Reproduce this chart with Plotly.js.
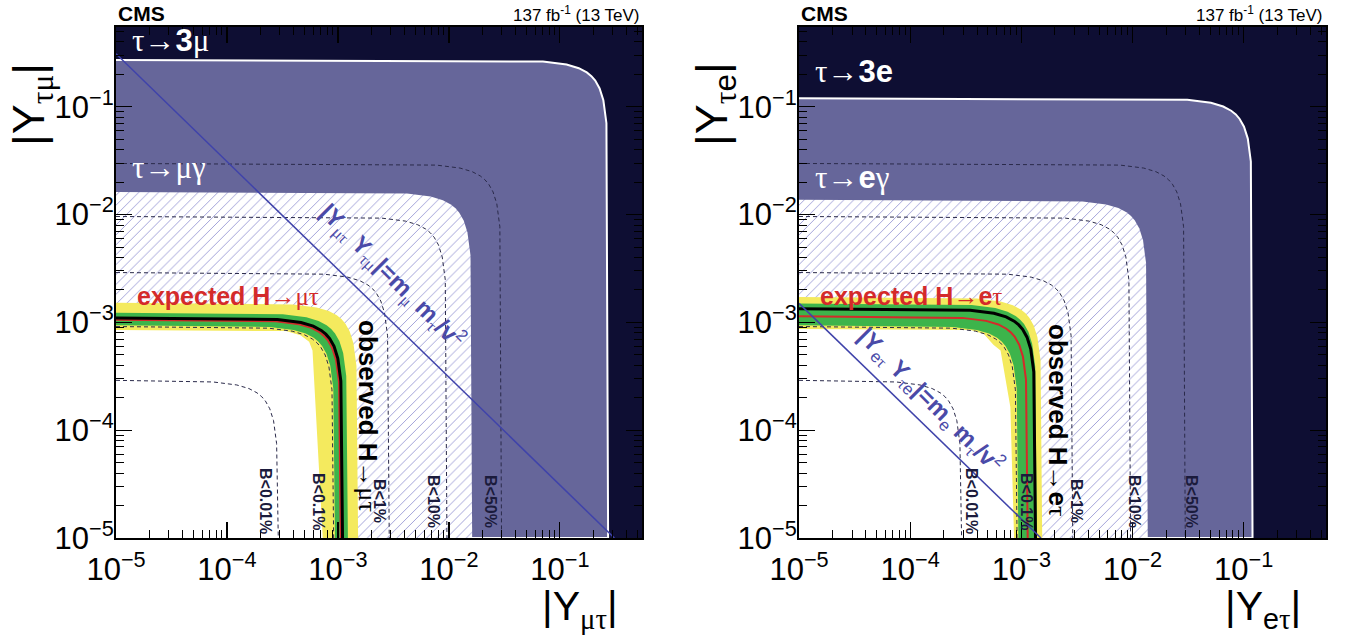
<!DOCTYPE html>
<html><head><meta charset="utf-8">
<script src="https://cdn.plot.ly/plotly-3.0.1.min.js"></script>
<style>html,body{margin:0;padding:0;background:#fff}#chart{width:1354px;height:639px}</style>
</head><body><div id="chart"></div>
<script>
// ---------------- data ----------------
const AXMIN = 1e-5;
// shared branching-fraction contours B<0.01%,0.1%,1%,10%,50%
const B001_x = [1e-5, 7.51e-5, 1.226e-4, 1.579e-4, 1.864e-4, 2.051e-4, 2.221e-4, 2.432e-4, 2.628e-4, 2.801e-4, 2.9e-4];
const B01_x  = [1e-5, 2.368e-4, 3.867e-4, 4.983e-4, 5.882e-4, 6.47e-4, 7.009e-4, 7.674e-4, 8.293e-4, 8.838e-4, 9.15e-4];
const B1_x   = [1e-5, 7.51e-4, 1.226e-3, 1.579e-3, 1.864e-3, 2.051e-3, 2.221e-3, 2.432e-3, 2.628e-3, 2.801e-3, 2.9e-3];
const B10_x  = [1e-5, 2.484e-3, 4.057e-3, 5.228e-3, 6.171e-3, 6.788e-3, 7.354e-3, 8.052e-3, 8.7e-3, 9.273e-3, 9.6e-3];
const B50_x  = [1e-5, 7.71e-3, 1.259e-2, 1.623e-2, 1.916e-2, 2.107e-2, 2.283e-2, 2.499e-2, 2.701e-2, 2.878e-2, 2.98e-2];
const B_labels = ["B<0.01%", "B<0.1%", "B<1%", "B<10%", "B<50%"];

// left panel: H -> mu tau
const mt_tau3_x   = [1e-5, 0.0704, 0.1149, 0.1481, 0.1748, 0.1923, 0.2083, 0.2281, 0.2465, 0.2627, 0.272];
const mt_taug_x   = [1e-5, 0.00419, 0.00685, 0.00882, 0.01041, 0.01146, 0.01241, 0.01359, 0.01468, 0.01565, 0.0162];
const mt_obs_x    = [1e-5, 2.847e-4, 4.649e-4, 5.991e-4, 7.071e-4, 7.778e-4, 8.426e-4, 9.226e-4, 9.969e-4, 1.0625e-3, 1.1e-3];
const mt_exp_x    = [1e-5, 2.743e-4, 4.48e-4, 5.773e-4, 6.814e-4, 7.495e-4, 8.12e-4, 8.89e-4, 9.607e-4, 1.0239e-3, 1.06e-3];
const mt_g_out_x  = [1e-5, 3.183e-4, 5.198e-4, 6.699e-4, 7.906e-4, 8.697e-4, 9.422e-4, 1.0316e-3, 1.1147e-3, 1.1881e-3, 1.23e-3];
const mt_g_in_x   = [1e-5, 2.433e-4, 3.972e-4, 5.119e-4, 6.042e-4, 6.647e-4, 7.2e-4, 7.884e-4, 8.519e-4, 9.079e-4, 9.4e-4];
const mt_y_out_x  = [1e-5, 3.934e-4, 6.424e-4, 8.278e-4, 9.771e-4, 1.0748e-3, 1.1643e-3, 1.2748e-3, 1.3776e-3, 1.4682e-3, 1.52e-3];
const mt_y_in_x   = [1e-5, 3.4e-4, 4.6e-4, 5.5e-4, 5.9e-4, 7.3e-4];
const mt_y_in_y   = [8.5e-4, 8.3e-4, 7.6e-4, 6.6e-4, 5.5e-4, 1e-5];
const mt_diag_x   = [1e-5, 0.31];
const mt_diag_y   = [0.31, 1e-5];

// right panel: H -> e tau
const et_tau3_x   = [1e-5, 0.0311, 0.0507, 0.0654, 0.0771, 0.0849, 0.0919, 0.1006, 0.1088, 0.1159, 0.12];
const et_taug_x   = [1e-5, 0.003546, 0.00579, 0.00746, 0.00881, 0.00969, 0.01049, 0.01149, 0.01242, 0.01323, 0.0137];
const et_obs_x    = [1e-5, 3.468e-4, 5.663e-4, 7.298e-4, 8.614e-4, 9.475e-4, 1.0264e-3, 1.1239e-3, 1.2144e-3, 1.2943e-3, 1.34e-3];
const et_exp_x    = [1e-5, 2.95e-4, 4.818e-4, 6.208e-4, 7.328e-4, 8.061e-4, 8.732e-4, 9.561e-4, 1.0332e-3, 1.1011e-3, 1.14e-3];
const et_g_out_x  = [1e-5, 3.571e-4, 5.832e-4, 7.515e-4, 8.871e-4, 9.758e-4, 1.0571e-3, 1.1574e-3, 1.2507e-3, 1.3329e-3, 1.38e-3];
const et_g_out_y  = [1.5e-3, 1.4489e-3, 1.3595e-3, 1.2581e-3, 1.149e-3, 1.0607e-3, 9.642e-4, 8.169e-4, 6.339e-4, 3.882e-4, 1e-5];
const et_g_in_x   = [1e-5, 2.433e-4, 3.972e-4, 5.119e-4, 6.042e-4, 6.647e-4, 7.2e-4, 7.884e-4, 8.519e-4, 9.079e-4, 9.4e-4];
const et_y_out_x  = [1e-5, 3.986e-4, 6.508e-4, 8.387e-4, 9.899e-4, 1.0889e-3, 1.1796e-3, 1.2916e-3, 1.3957e-3, 1.4875e-3, 1.54e-3];
const et_y_out_y  = [1.72e-3, 1.6613e-3, 1.5588e-3, 1.4426e-3, 1.3175e-3, 1.2162e-3, 1.1056e-3, 9.367e-4, 7.269e-4, 4.451e-4, 1e-5];
const et_y_in_x   = [1e-5, 3.5e-4, 4.6e-4, 5.6e-4, 6.5e-4, 7.96e-4, 8.6e-4];
const et_y_in_y   = [8.7e-4, 8.5e-4, 7.8e-4, 6.2e-4, 5.5e-4, 1.64e-4, 1e-5];
const et_diag_x   = [1e-5, 1.5e-3];
const et_diag_y   = [1.5e-3, 1e-5];

// axis tick labels
const tick_vals = [1e-5, 1e-4, 1e-3, 1e-2, 1e-1];
const tick_text = ['10<sup>−5</sup>', '10<sup>−4</sup>', '10<sup>−3</sup>', '10<sup>−2</sup>', '10<sup>−1</sup>'];

// ---------------- drawing ----------------
const mirror = a => a.slice().reverse();
const C = {navy:'#0e0e33', mid:'#66669a', hatch:'#9292d2', yellow:'#f4ea5e', green:'#3db44b', red:'#d42a2a', blue:'#3f43aa', dash:'#2a2a4a'};

function panel(xa, ya, d) {
  const t = [];
  const base = {xaxis:xa, yaxis:ya, mode:'lines', hoverinfo:'skip', showlegend:false};
  t.push(Object.assign({}, base, {x:d.tau3.concat([AXMIN]), y:mirror(d.tau3).concat([AXMIN]), fill:'toself', fillcolor:C.mid, line:{color:'white', width:2}}));
  t.push(Object.assign({}, base, {x:d.taug.concat([AXMIN]), y:mirror(d.taug).concat([AXMIN]), fill:'toself', fillcolor:'white',
    fillpattern:{shape:'/', fgcolor:C.hatch, bgcolor:'white', size:7, solidity:0.12}, line:{width:0, color:'rgba(0,0,0,0)'}}));
  t.push(Object.assign({}, base, {x:d.obs.concat([AXMIN]), y:mirror(d.obs).concat([AXMIN]), fill:'toself', fillcolor:'white', line:{width:0, color:'rgba(0,0,0,0)'}}));
  t.push(Object.assign({}, base, {x:d.yox.concat(mirror(d.yix)), y:d.yoy.concat(mirror(d.yiy)), fill:'toself', fillcolor:C.yellow, line:{width:0, color:'rgba(0,0,0,0)'}}));
  t.push(Object.assign({}, base, {x:d.gox.concat(mirror(d.gix)), y:d.goy.concat(mirror(d.giy)), fill:'toself', fillcolor:C.green, line:{width:0, color:'rgba(0,0,0,0)'}}));
  [B001_x, B01_x, B1_x, B10_x, B50_x].forEach(bx => {
    t.push(Object.assign({}, base, {x:bx, y:mirror(bx), line:{color:C.dash, width:1, dash:'4px,3px'}}));
  });
  t.push(Object.assign({}, base, {x:d.exp, y:mirror(d.exp), line:{color:C.red, width:2}}));
  t.push(Object.assign({}, base, {x:d.obs, y:mirror(d.obs), line:{color:'black', width:3}}));
  t.push(Object.assign({}, base, {x:d.dx, y:d.dy, line:{color:C.blue, width:1.5}}));
  return t;
}

const traces = [].concat(
  panel('x', 'y', {tau3:mt_tau3_x, taug:mt_taug_x, obs:mt_obs_x, exp:mt_exp_x,
    gox:mt_g_out_x, goy:mirror(mt_g_out_x), gix:mt_g_in_x, giy:mirror(mt_g_in_x),
    yox:mt_y_out_x, yoy:mirror(mt_y_out_x), yix:mt_y_in_x, yiy:mt_y_in_y, dx:mt_diag_x, dy:mt_diag_y}),
  panel('x2', 'y2', {tau3:et_tau3_x, taug:et_taug_x, obs:et_obs_x, exp:et_exp_x,
    gox:et_g_out_x, goy:et_g_out_y, gix:et_g_in_x, giy:mirror(et_g_in_x),
    yox:et_y_out_x, yoy:et_y_out_y, yix:et_y_in_x, yiy:et_y_in_y, dx:et_diag_x, dy:et_diag_y})
);

const W = 1354, H = 639;
const PX = [116, 642, 799, 1326], PY = [27, 538];
function axis(d0, d1, anchor, isY) {
  return {domain:[d0, d1], anchor:anchor, type:'log', range:[-5, -0.26], showgrid:false, zeroline:false,
    showline:true, linecolor:'black', linewidth:2, mirror:'allticks', ticks:'inside', ticklen:16, tickwidth:1.2, tickcolor:'black',
    tickmode:'array', tickvals:tick_vals, ticktext:tick_text, tickfont:{size:31, color:'black', family:'Liberation Sans'},
    ticklabelstandoff: isY ? -6 : 3,
    minor:{ticks:'inside', ticklen:8, tickwidth:1, tickcolor:'black', dtick:'D1', showgrid:false}};
}
const px = v => v / W, py = v => 1 - v / H;
const S = s => '<span style="font-family:Liberation Serif">' + s + '</span>';

const ann = [];
function A(x, y, text, o) { ann.push(Object.assign({xref:'paper', yref:'paper', x:px(x), y:py(y), text:text, showarrow:false,
  xanchor:'center', yanchor:'middle', font:{family:'Liberation Sans', size:20, color:'black'}}, o || {})); }

const panels = [
  {off:0, l3:S('τ→') + '<b>3</b>' + S('μ'), lg:S('τ→μγ'), yl3:40, ylg:167, lep:S('μτ'), lepr:S('τμ'),
   exp:'<b>expected H</b>' + S('→μτ'), obs:'<b>observed H</b>' + S('→μτ'), obsx:368, obsy:416,
   diag:'<b>|Y</b><sub>' + S('μτ') + '</sub><b> Y</b><sub>' + S('τμ') + '</sub><b>|=m</b><sub>' + S('μ') + '</sub><b> m</b><sub>' + S('τ') + '</sub><b>/v</b><sup>2</sup>',
   dgx:392, dgy:276, bx:[266, 319, 380, 434, 491]},
  {off:683, l3:S('τ→') + '<b>3e</b>', lg:S('τ→') + '<b>e</b>' + S('γ'), yl3:72, ylg:177, lep:'e' + S('τ'), lepr:S('τ') + 'e',
   exp:'<b>expected H</b>' + S('→') + '<b>e</b>' + S('τ'), obs:'<b>observed H</b>' + S('→') + '<b>e</b>' + S('τ'), obsx:1058, obsy:420,
   diag:'<b>|Y</b><sub>e' + S('τ') + '</sub><b> Y</b><sub>' + S('τ') + 'e</sub><b>|=m</b><sub>e</sub><b> m</b><sub>' + S('τ') + '</sub><b>/v</b><sup>2</sup>',
   dgx:930, dgy:400, bx:[972, 1027, 1077, 1135, 1192]}
];
panels.forEach(p => {
  const L = 116 + p.off, R = 642 + p.off;
  A(L, 14, '<b>CMS</b>', {xanchor:'left', font:{family:'Liberation Sans', size:21, color:'black'}});
  A(R, 14, '137 fb<sup>-1</sup> (13 TeV)', {xanchor:'right', font:{family:'Liberation Sans', size:17, color:'black'}});
  A(L + 14, p.yl3, p.l3, {xanchor:'left', font:{family:'Liberation Sans', size:31, color:'white'}});
  A(L + 14, p.ylg, p.lg, {xanchor:'left', font:{family:'Liberation Sans', size:31, color:'white'}});
  A(L + 19, 296, p.exp, {xanchor:'left', font:{family:'Liberation Sans', size:25, color:C.red}});
  A(p.obsx, p.obsy, p.obs, {textangle:90, font:{family:'Liberation Sans', size:26, color:'black'}});
  A(p.dgx, p.dgy, p.diag, {textangle:45, font:{family:'Liberation Sans', size:24, color:'#4a4aa8'}});
  B_labels.forEach((b, i) => A(p.bx[i], 501, '<b>' + b.replace('<', '&lt;') + '</b>', {textangle:90, font:{family:'Liberation Sans', size:16, color:'#1b1b3c'}}));
  A(R - 62, 609, '|Y<sub>' + p.lep + '</sub>|', {font:{family:'Liberation Sans', size:41, color:'black'}});
  A(31 + p.off, 104, '|Y<sub>' + p.lepr + '</sub>|', {textangle:-90, font:{family:'Liberation Sans', size:45, color:'black'}});
});

const layout = {
  width:W, height:H, margin:{l:0, r:0, t:0, b:0}, paper_bgcolor:'white', plot_bgcolor:C.navy, showlegend:false,
  font:{family:'Liberation Sans'},
  xaxis: axis(px(PX[0]), px(PX[1]), 'y'),
  yaxis: axis(py(PY[1]), py(PY[0]), 'x', true),
  xaxis2: axis(px(PX[2]), px(PX[3]), 'y2'),
  yaxis2: axis(py(PY[1]), py(PY[0]), 'x2', true),
  annotations: ann
};
Plotly.newPlot('chart', traces, layout, {staticPlot:true, displayModeBar:false});
</script></body></html>
